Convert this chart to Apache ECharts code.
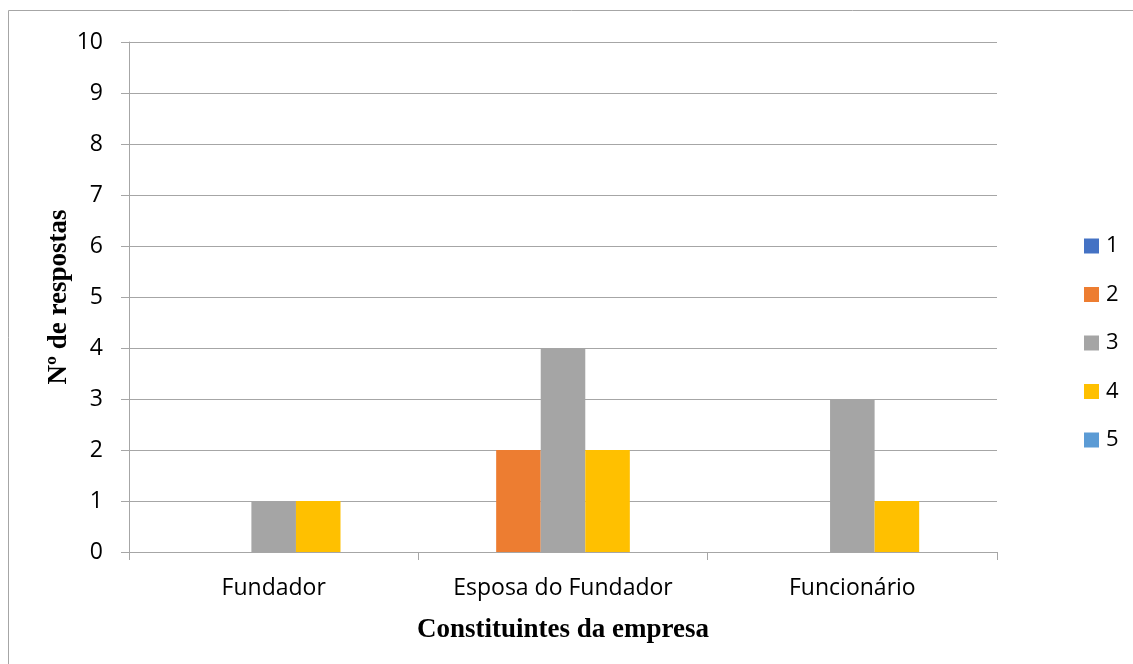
<!DOCTYPE html>
<html>
<head>
<meta charset="utf-8">
<script src="https://cdn.jsdelivr.net/npm/echarts@6/dist/echarts.min.js"></script>
<style>
  html, body { margin: 0; padding: 0; background: #fff; }
  #chart { width: 1133px; height: 664px; }
</style>
</head>
<body>
<div id="chart"></div>
<script>
// categorias do eixo x
var categorias = ['Fundador', 'Esposa do Fundador', 'Funcionário'];
// valores de cada série (nota 1 a 5)
var serie1 = [0, 0, 0];
var serie2 = [0, 2, 0];
var serie3 = [1, 4, 3];
var serie4 = [1, 2, 1];
var serie5 = [0, 0, 0];
var nomesSeries = ['1', '2', '3', '4', '5'];
var cores = ['#4472C4', '#ED7D31', '#A5A5A5', '#FFC000', '#5B9BD5'];

var chart = echarts.init(document.getElementById('chart'));

var valores = [serie1, serie2, serie3, serie4, serie5];
var series = nomesSeries.map(function (nome, i) {
    return {
        name: nome,
        type: 'bar',
        data: valores[i],
        barGap: '0%',
        barCategoryGap: '23%',
        itemStyle: { color: cores[i] },
        emphasis: { disabled: true }
    };
});

var option = {
    animation: false,
    backgroundColor: '#fff',
    color: cores,
    graphic: [{
        type: 'rect',
        shape: { x: 8.5, y: 10.5, width: 1300, height: 1000 },
        style: { fill: 'none', stroke: '#A6A6A6', lineWidth: 1 },
        silent: true
    }],
    grid: { left: 129, right: 136, top: 42, bottom: 112 },
    legend: {
        orient: 'vertical',
        left: 1079,
        top: 230,
        icon: 'rect',
        itemWidth: 15,
        itemHeight: 15,
        itemGap: 26.5,
        textStyle: { fontFamily: 'Open Sans', fontSize: 22, lineHeight: 22, color: '#000', padding: [0, 0, 0, 2] },
        data: nomesSeries
    },
    xAxis: {
        type: 'category',
        data: categorias,
        name: 'Constituintes da empresa',
        nameLocation: 'middle',
        nameGap: 65,
        nameMoveOverlap: false,
        nameTextStyle: { fontFamily: 'Liberation Serif', fontWeight: 'bold', fontSize: 27, color: '#000' },
        axisLine: { lineStyle: { color: '#A6A6A6' } },
        axisTick: { show: true, length: 8, alignWithLabel: false, lineStyle: { color: '#A6A6A6' } },
        axisLabel: { fontFamily: 'Open Sans', fontSize: 23, color: '#000', margin: 25 }
    },
    yAxis: {
        type: 'value',
        min: 0,
        max: 10,
        interval: 1,
        name: 'Nº de respostas',
        nameLocation: 'middle',
        nameGap: 56,
        nameMoveOverlap: false,
        nameTextStyle: { fontFamily: 'Liberation Serif', fontWeight: 'bold', fontSize: 27, color: '#000' },
        axisLine: { show: true, lineStyle: { color: '#A6A6A6' } },
        axisTick: { show: true, length: 8, lineStyle: { color: '#A6A6A6' } },
        axisLabel: { fontFamily: 'Open Sans', fontSize: 23, color: '#000', margin: 26 },
        splitLine: { lineStyle: { color: '#A6A6A6' } }
    },
    series: series
};

chart.setOption(option);
</script>
</body>
</html>
